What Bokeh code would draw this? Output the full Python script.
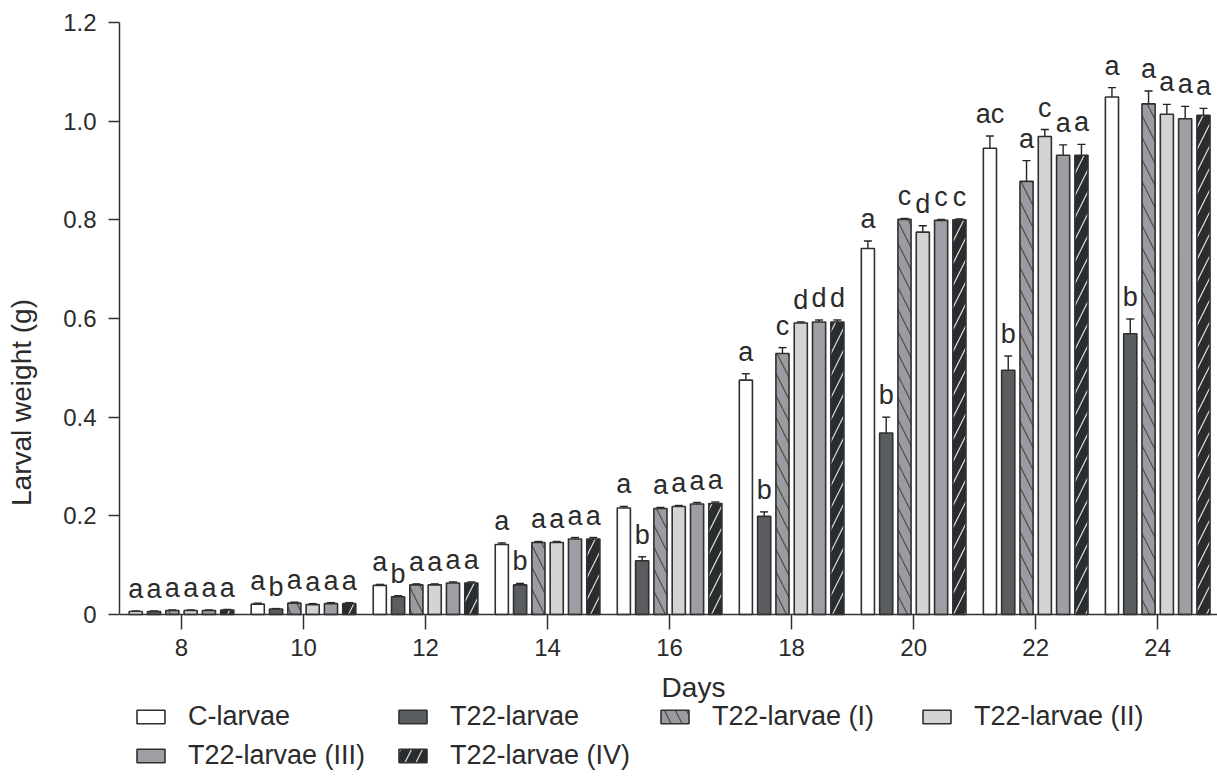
from bokeh.plotting import figure
from bokeh.models import (ColumnDataSource, Whisker, TeeHead, Legend, LegendItem, FixedTicker,
                          Range1d, LinearAxis)
from bokeh.core.properties import value
from bokeh.embed import file_html
from bokeh.resources import INLINE

# ---------------- data ----------------
days = [8, 10, 12, 14, 16, 18, 20, 22, 24]
series_names = ["C-larvae", "T22-larvae", "T22-larvae (I)", "T22-larvae (II)",
                "T22-larvae (III)", "T22-larvae (IV)"]

c_larvae = [0.006, 0.021, 0.059, 0.142, 0.216, 0.475, 0.742, 0.945, 1.049]
t22_larvae = [0.006, 0.011, 0.036, 0.060, 0.109, 0.199, 0.368, 0.495, 0.569]
t22_i = [0.008, 0.023, 0.060, 0.146, 0.215, 0.529, 0.801, 0.878, 1.035]
t22_ii = [0.008, 0.020, 0.060, 0.146, 0.219, 0.591, 0.775, 0.969, 1.014]
t22_iii = [0.008, 0.022, 0.064, 0.153, 0.224, 0.593, 0.799, 0.931, 1.005]
t22_iv = [0.009, 0.022, 0.064, 0.153, 0.225, 0.593, 0.800, 0.931, 1.012]

err_c = [0.001, 0.002, 0.002, 0.003, 0.003, 0.013, 0.015, 0.025, 0.019]
err_t22 = [0.001, 0.001, 0.002, 0.003, 0.008, 0.009, 0.032, 0.029, 0.030]
err_i = [0.001, 0.002, 0.002, 0.002, 0.002, 0.012, 0.002, 0.042, 0.026]
err_ii = [0.001, 0.002, 0.002, 0.002, 0.002, 0.002, 0.013, 0.014, 0.020]
err_iii = [0.001, 0.002, 0.002, 0.003, 0.003, 0.004, 0.002, 0.021, 0.025]
err_iv = [0.001, 0.002, 0.002, 0.003, 0.003, 0.004, 0.002, 0.022, 0.014]

let_c = ["a", "a", "a", "a", "a", "a", "a", "ac", "a"]
let_t22 = ["a", "b", "b", "b", "b", "b", "b", "b", "b"]
let_i = ["a", "a", "a", "a", "a", "c", "c", "a", "a"]
let_ii = ["a", "a", "a", "a", "a", "d", "d", "c", "a"]
let_iii = ["a", "a", "a", "a", "a", "d", "c", "a", "a"]
let_iv = ["a", "a", "a", "a", "a", "d", "c", "a", "a"]

y_ticks = [0, 0.2, 0.4, 0.6, 0.8, 1.0, 1.2]
y_tick_labels = ["0", "0.2", "0.4", "0.6", "0.8", "1.0", "1.2"]

# ---------------- styling ----------------
FONT = "Liberation Sans"
TXT = "#2b2b2b"
fills = ["#ffffff", "#5a5e60", "#9a9ca1", "#d4d4d4", "#9d9fa4", "#2a2d30"]
hatches = [None, None, "left_diagonal_line", None, None, "right_diagonal_line"]
hatch_colors = [None, None, "#4a4a4a", None, None, "#e0e0e0"]
offsets = [-0.75, -0.45, -0.15, 0.15, 0.45, 0.75]
bar_w = 0.215

values = [c_larvae, t22_larvae, t22_i, t22_ii, t22_iii, t22_iv]
errors = [err_c, err_t22, err_i, err_ii, err_iii, err_iv]
letters = [let_c, let_t22, let_i, let_ii, let_iii, let_iv]

# frame spans the whole height; value 0 sits 168 px above the bottom edge
x_start, x_end = 6.984, 24.98
y_bottom = -168 / (592 / 1.2)
p = figure(width=1217, height=782,
           x_range=Range1d(x_start, x_end), y_range=Range1d(y_bottom, 1.2),
           output_backend="svg", toolbar_location=None,
           min_border_left=119, min_border_right=0, min_border_top=22, min_border_bottom=0)
p.outline_line_color = None
p.xgrid.visible = False
p.ygrid.visible = False
p.background_fill_color = "white"
p.border_fill_color = "white"

renderers = []
for i in range(6):
    xs = [d + offsets[i] for d in days]
    src = ColumnDataSource(dict(x=xs, top=values[i],
                                upper=[v + e for v, e in zip(values[i], errors[i])],
                                lower=[v - e for v, e in zip(values[i], errors[i])],
                                lab=letters[i]))
    kw = dict(x="x", top="top", bottom=0, width=bar_w, source=src,
              fill_color=fills[i], line_color="#303030", line_width=1.6)
    if hatches[i]:
        kw.update(hatch_pattern=hatches[i], hatch_color=hatch_colors[i],
                  hatch_scale=22, hatch_weight=1.2)
    r = p.vbar(**kw)
    renderers.append(r)
    w = Whisker(source=src, base="x", upper="upper", lower="lower",
                line_color="#222222", line_width=1.4,
                upper_head=TeeHead(size=8, line_width=1.4, line_color="#222222"),
                lower_head=TeeHead(size=8, line_width=1.4, line_color="#222222"))
    p.add_layout(w)
    p.text(x="x", y="upper", text="lab", source=src, text_align="center",
           text_baseline="bottom", y_offset=-7,
           text_font=value(FONT), text_font_size="27px", text_color=TXT)

# ---------------- axes ----------------
for ax in (p.xaxis[0], p.yaxis[0]):
    ax.axis_line_width = 1.5
    ax.axis_line_color = "#333333"
    ax.major_tick_line_color = "#333333"
    ax.major_tick_line_width = 1.5
    ax.major_tick_in = 0
    ax.minor_tick_line_color = None
    ax.major_label_text_font = FONT
    ax.major_label_text_font_size = "24px"
    ax.major_label_text_color = TXT

p.xaxis.ticker = FixedTicker(ticks=days)
p.xaxis.fixed_location = 0
p.xaxis.major_tick_out = 15
p.xaxis.major_label_standoff = 9

p.yaxis.ticker = FixedTicker(ticks=y_ticks)
p.yaxis.bounds = (0, 1.2)
p.yaxis.major_label_overrides = dict(zip(y_ticks, y_tick_labels))
p.yaxis.major_tick_out = 11
p.yaxis.major_label_standoff = 12

# axis titles carried by bare axes so they sit where the reference puts them
label_kw = dict(ticker=FixedTicker(ticks=[]), axis_line_color=None,
                major_tick_line_color=None, minor_tick_line_color=None,
                axis_label_text_font=FONT, axis_label_text_font_size="28px",
                axis_label_text_font_style="normal", axis_label_text_color=TXT)
x_title = LinearAxis(axis_label="Days", bounds=(7.8, x_end), fixed_location=0,
                     axis_label_standoff=57, **label_kw)
p.add_layout(x_title, "below")
y_title = LinearAxis(axis_label="Larval weight (g)", bounds=(0.122, 1.2),
                     axis_label_standoff=24, **label_kw)
p.add_layout(y_title, "left")

# ---------------- legend ----------------
legend = Legend(items=[LegendItem(label=series_names[i], renderers=[renderers[i]]) for i in range(6)],
                orientation="horizontal", ncols=4, location=(14, 11),
                label_text_font=FONT, label_text_font_size="27px", label_text_color=TXT,
                glyph_width=35, glyph_height=17, label_standoff=20, label_width=199,
                label_height=30, spacing=8, padding=4, margin=0,
                border_line_color=None, background_fill_alpha=0)
p.add_layout(legend, "center")

open("out.html", "w").write(file_html(p, INLINE))
